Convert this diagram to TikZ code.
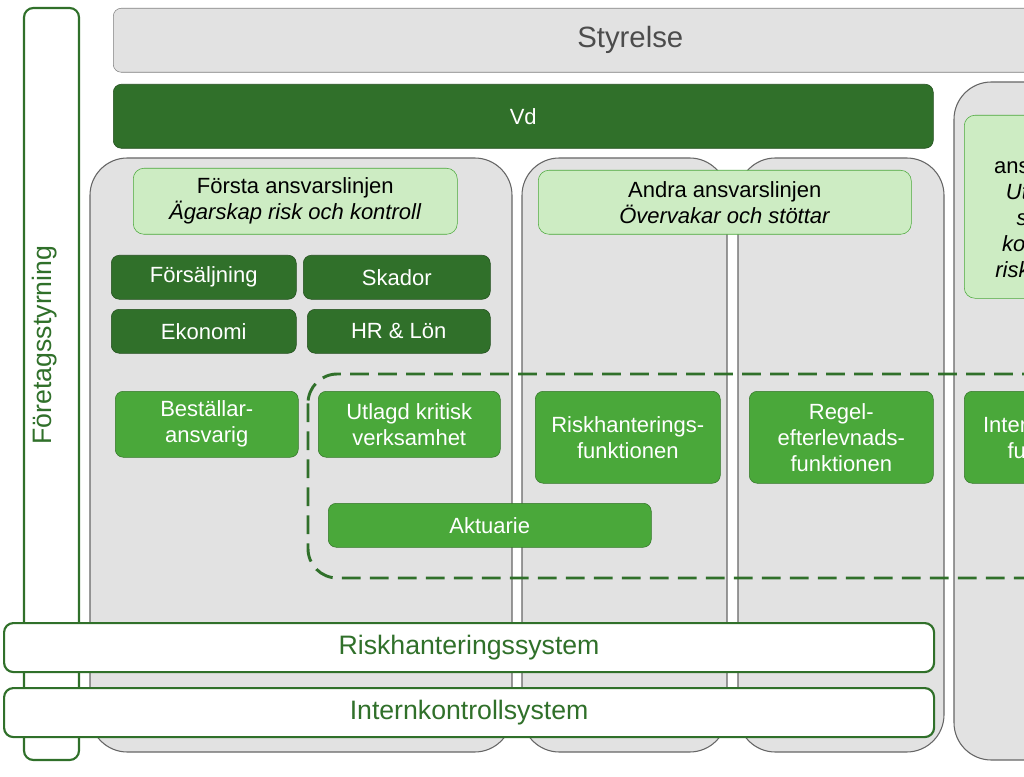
\documentclass[tikz,border=0pt]{standalone}
\usepackage{fontspec}
\setmainfont{Liberation Sans}
\definecolor{darkgr}{RGB}{48,112,42}
\definecolor{midgr}{RGB}{74,168,58}
\definecolor{lightgr}{RGB}{205,236,195}
\definecolor{panel}{RGB}{226,226,226}
\tikzset{
  box/.style={draw=#1!70!black, fill=#1, rounded corners=6pt, text=white, align=center,
    font=\fontsize{16.5}{19.5}\selectfont, inner sep=0pt},
  hdr/.style={draw=midgr, fill=lightgr, rounded corners=8pt, align=center,
    font=\fontsize{16.5}{19.5}\selectfont, inner sep=0pt},
  col/.style={draw=gray!80!black, fill=panel, rounded corners=28pt, line width=0.8pt},
  sys/.style={draw=darkgr, fill=white, rounded corners=7pt, line width=1.6pt, text=darkgr,
    font=\fontsize{20}{24}\selectfont, inner sep=0pt},
}
\begin{document}
\begin{tikzpicture}[x=0.75pt,y=-0.75pt]
  \useasboundingbox (0,0) rectangle (1024,777);
  \clip (0,0) rectangle (1024,777);

  % styrelse och vd
  \node[box=panel, draw=gray, text=black!70, minimum width=1034*0.75pt, minimum height=64*0.75pt,
    font=\fontsize{22}{26}\selectfont, anchor=north west] (styrelse) at (113,8) {Styrelse};
  \node[box=darkgr, minimum width=820*0.75pt, minimum height=64*0.75pt, anchor=north west] (vd) at (113,84) {Vd};

  % kolumner
  \draw[col] (90,158) rectangle (512,752);
  \draw[col] (522,158) rectangle (727,752);
  \draw[col] (738,158) rectangle (944,752);
  \draw[col] (954,82) rectangle (1120,760);

  % rubriker
  \node[hdr, minimum width=324*0.75pt, minimum height=66*0.75pt, anchor=north west] (linje1) at (133,168)
    {Första ansvarslinjen\\\textit{Ägarskap risk och kontroll}};
  \node[hdr, minimum width=373*0.75pt, minimum height=64*0.75pt, anchor=north west] (linje2) at (538,170)
    {Andra ansvarslinjen\\\textit{Övervakar och stöttar}};
  \node[hdr, minimum width=188*0.75pt, minimum height=183*0.75pt, anchor=north west] (linje3) at (964,115)
    {Tredje\\ansvarslinjen\\\textit{Utvärderar}\\\textit{styrning,}\\\textit{kontroll och}\\\textit{riskhantering}};

  % första linjen, enheter
  \foreach \nm/\x/\y/\w/\txt in {salj/111/255/185/Försäljning, skador/303/255/187/Skador,
      ekonomi/111/309/185/Ekonomi, hr/307/309/183/HR \& Lön}
    \node[box=darkgr, minimum width=\w*0.75pt, minimum height=44*0.75pt, anchor=north west] (\nm) at (\x,\y) {\txt};

  % utlagd verksamhet
  \draw[darkgr, line width=2.2pt, dash pattern=on 14pt off 7pt, rounded corners=22pt]
    (308,374) rectangle (1120,578);

  % funktioner
  \foreach \nm/\x/\y/\w/\h/\txt in {
      bestallar/115/391/183/66/{Beställar-\\ansvarig},
      utlagd/318/391/182/66/{Utlagd kritisk\\verksamhet},
      riskfunk/535/391/185/92/{Riskhanterings-\\funktionen},
      regel/749/391/184/92/{Regel-\\efterlevnads-\\funktionen},
      internrev/964/391/188/92/{Internrevisions-\\funktionen},
      aktuarie/328/503/323/44/{Aktuarie}}
    \node[box=midgr, minimum width=\w*0.75pt, minimum height=\h*0.75pt, anchor=north west] (\nm) at (\x,\y) {\txt};

  % foretagsstyrning
  \draw[darkgr, fill=white, rounded corners=7pt, line width=1.6pt] (24,8) rectangle (79,760);
  \node[rotate=90, text=darkgr, font=\fontsize{20}{24}\selectfont] (styrning) at (45,345) {Företagsstyrning};

  % system
  \node[sys, minimum width=930*0.75pt, minimum height=49*0.75pt, anchor=north west] (risksys) at (3,622) {Riskhanteringssystem};
  \node[sys, minimum width=930*0.75pt, minimum height=49*0.75pt, anchor=north west] (iksys) at (3,687) {Internkontrollsystem};
\end{tikzpicture}
\end{document}
